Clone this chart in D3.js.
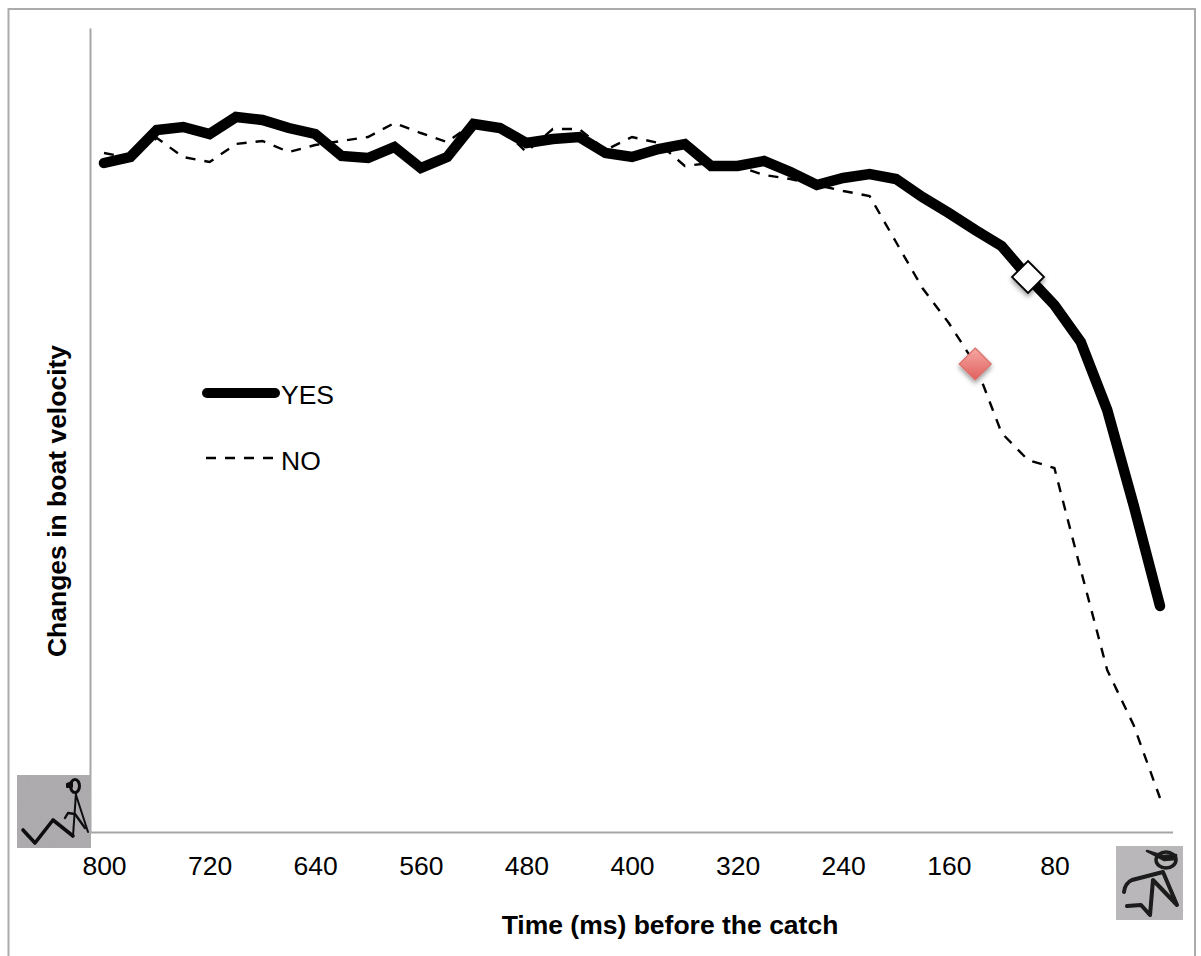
<!DOCTYPE html>
<html><head><meta charset="utf-8">
<script src="https://cdn.jsdelivr.net/npm/d3@7"></script>
<style>
html,body{margin:0;padding:0;background:#fff;overflow:hidden}
text{font-family:"Liberation Sans",Arial,sans-serif;fill:#000}
</style></head><body>
<svg id="c" width="1201" height="956"></svg>
<script>
// Time before the catch (ms), every 20 ms
const times = [800,780,760,740,720,700,680,660,640,620,600,580,560,540,520,500,480,460,440,420,400,380,360,340,320,300,280,260,240,220,200,180,160,140,120,100,80,60,40,20,0];
// Relative change in boat velocity (arbitrary units, height above the time axis)
const yesValues = [669,675,702,705,698,715,712,704,698,676,674,685,664,675,708,704,689,693,695,679,675,683,688,666,666,671,660,647,654,658,653,635,619,602,586,555,527,490,422,327,226];
const noValues  = [679,674,694,675,670,688,691,680,687,691,695,709,699,690,709,705,680,703,703,682,695,689,666,669,666,657,653,647,641,636,590,544,509,468,399,372,364,262,162,107,34];
const tickLabels = [800,720,640,560,480,400,320,240,160,80];
const legendItems = ["YES","NO"];
const markerTimes = {yes:100, no:140};

const svg = d3.select("#c");
const x = d3.scaleLinear().domain([800,0]).range([104,1160]);
const y = d3.scaleLinear().domain([0,804]).range([832,28]);

const defs = svg.append("defs");
const red = defs.append("linearGradient").attr("id","red").attr("x1",0).attr("y1",0).attr("x2",0).attr("y2",1);
red.append("stop").attr("offset","0%").attr("stop-color","#f7a8a4");
red.append("stop").attr("offset","100%").attr("stop-color","#e0605c");
const f = defs.append("filter").attr("id","sh").attr("x","-40%").attr("y","-40%").attr("width","180%").attr("height","190%");
f.append("feDropShadow").attr("dx",0).attr("dy",3).attr("stdDeviation",2.5).attr("flood-color","#000").attr("flood-opacity",0.4);
const pf = defs.append("filter").attr("id","paper").attr("x",0).attr("y",0).attr("width",1).attr("height",1);
pf.append("feTurbulence").attr("type","fractalNoise").attr("baseFrequency",0.5).attr("numOctaves",2).attr("seed",4).attr("result","n");
pf.append("feColorMatrix").attr("in","n").attr("type","matrix").attr("values","0 0 0 0 0.5 0 0 0 0 0.5 0 0 0 0 0.5 0 0 0 0.25 0").attr("result","m");
pf.append("feMerge").selectAll("feMergeNode").data(["SourceGraphic","m"]).join("feMergeNode").attr("in",d=>d);
defs.append("filter").attr("id","soft").append("feGaussianBlur").attr("stdDeviation",0.45);

// outer frame
svg.append("path").attr("d","M8.5,956V9H1195V956").attr("fill","none").attr("stroke","#ababab").attr("stroke-width",2);

// axes
const ax = svg.append("g").attr("transform","translate(0,832)")
  .call(d3.axisBottom(x).tickValues(tickLabels).tickSize(0).tickPadding(24));
ax.select(".domain").attr("d","M90,0.5H1173").attr("stroke","#a6a6a6").attr("stroke-width",2);
ax.selectAll("text").attr("font-size",26.5).attr("font-family",'"Liberation Sans",Arial,sans-serif').attr("fill","#000");
const ay = svg.append("g").attr("transform","translate(90,0)").call(d3.axisLeft(y).tickValues([]).tickSize(0));
ay.select(".domain").attr("stroke","#a6a6a6").attr("stroke-width",2);

// series
const line = d3.line().x((d,i)=>x(times[i])).y(d=>y(d));
svg.append("path").datum(noValues).attr("d",line).attr("fill","none").attr("stroke","#000")
  .attr("stroke-width",2.4).attr("stroke-dasharray","10 9");
svg.append("path").datum(yesValues).attr("d",line).attr("fill","none").attr("stroke","#000")
  .attr("stroke-width",10.5).attr("stroke-linejoin","miter").attr("stroke-linecap","round");

// markers
const diamond = (s)=>`M0,${-s}L${s},0L0,${s}L${-s},0Z`;
const at = (arr,t)=>arr[times.indexOf(t)];
svg.append("path").attr("d",diamond(16))
  .attr("transform",`translate(${x(markerTimes.yes)},${y(at(yesValues,markerTimes.yes))})`)
  .attr("fill","#fff").attr("stroke","#000").attr("stroke-width",1.8).attr("filter","url(#sh)");
svg.append("path").attr("d",diamond(16))
  .attr("transform",`translate(${x(markerTimes.no)},${y(at(noValues,markerTimes.no))})`)
  .attr("fill","url(#red)").attr("stroke","#d9706c").attr("stroke-width",1.2).attr("filter","url(#sh)");

// legend
svg.append("line").attr("x1",207).attr("x2",275).attr("y1",393).attr("y2",393)
  .attr("stroke","#000").attr("stroke-width",10).attr("stroke-linecap","round");
svg.append("line").attr("x1",206).attr("x2",274).attr("y1",458).attr("y2",458)
  .attr("stroke","#000").attr("stroke-width",2.4).attr("stroke-dasharray","10 9");
svg.append("text").attr("x",281).attr("y",404).attr("font-size",26.5).text(legendItems[0]);
svg.append("text").attr("x",281).attr("y",470).attr("font-size",26.5).text(legendItems[1]);

// axis titles
svg.append("text").attr("x",670).attr("y",934).attr("text-anchor","middle")
  .attr("font-size",26.5).attr("font-weight","bold").text("Time (ms) before the catch");
svg.append("text").attr("transform","translate(66,501) rotate(-90)").attr("text-anchor","middle")
  .attr("font-size",26.5).attr("font-weight","bold").text("Changes in boat velocity");

// rower sketches
const g1 = svg.append("g").attr("transform","translate(17,775)");
g1.append("rect").attr("width",74).attr("height",73).attr("fill","#aaa8ac").attr("filter","url(#paper)");
const ink1 = g1.append("g").attr("fill","none").attr("stroke","#0c0c0e").attr("stroke-linecap","round").attr("stroke-linejoin","round").attr("filter","url(#soft)");
ink1.append("path").attr("d","M6,55 L18,68 L36,45 L56,61").attr("stroke-width",3.6);
ink1.append("path").attr("d","M59,18 L56,61 M59,20 L71,57").attr("stroke-width",2);
ink1.append("path").attr("d","M48,43 L51,38 L58,39 L68,53").attr("stroke-width",2.4);
ink1.append("ellipse").attr("cx",58).attr("cy",11).attr("rx",4.5).attr("ry",6.5).attr("stroke-width",3);
ink1.append("path").attr("d","M50,9 L55,7 L55,12 L50,12Z").attr("fill","#0c0c0e").attr("stroke-width",2);

const g2 = svg.append("g").attr("transform","translate(1116,846)");
g2.append("rect").attr("width",67).attr("height",74).attr("fill","#b8b6b9").attr("filter","url(#paper)");
const ink2 = g2.append("g").attr("fill","none").attr("stroke","#1a1a1a").attr("stroke-linecap","round").attr("stroke-linejoin","round").attr("filter","url(#soft)");
ink2.append("path").attr("d","M8,46 Q9,37 16,34 L47,26 L61,59 L37,34 L34,69 L25,59 L11,60").attr("stroke-width",4);
ink2.append("ellipse").attr("cx",50).attr("cy",14).attr("rx",10).attr("ry",8).attr("stroke-width",3.5);
ink2.append("path").attr("d","M31,5 L47,10 L60,9 L60,13 L48,14Z").attr("fill","#1a1a1a").attr("stroke-width",2.5);
</script>
</body></html>
